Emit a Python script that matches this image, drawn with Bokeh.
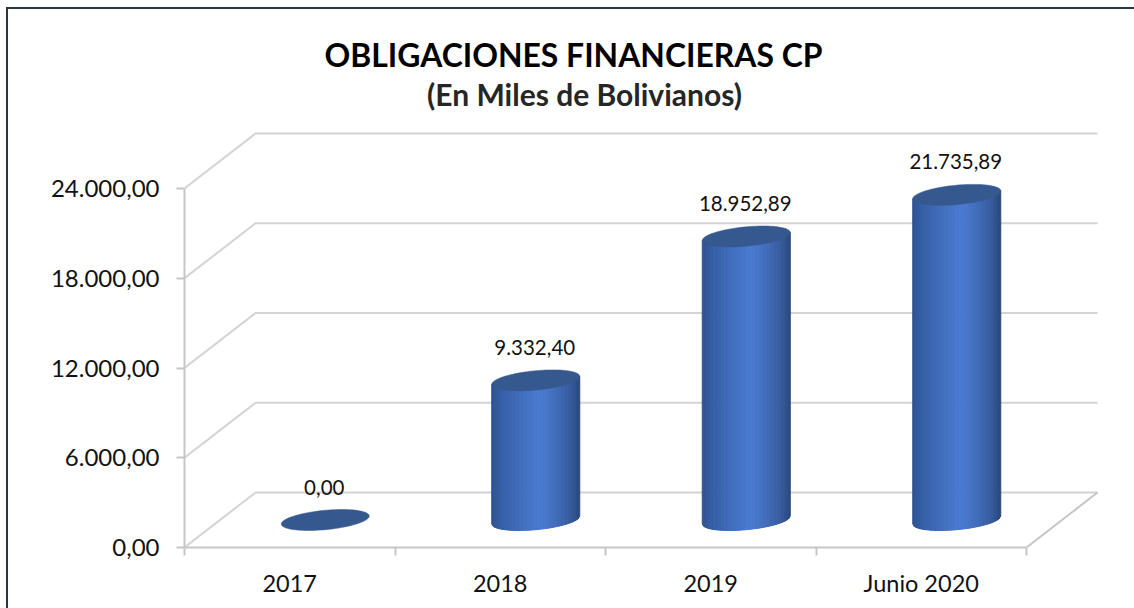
import numpy as np
from bokeh.plotting import figure
from bokeh.embed import file_html
from bokeh.resources import INLINE
from bokeh.models import FixedTicker, Range1d
from bokeh.core.properties import value

title_text = "OBLIGACIONES FINANCIERAS CP"
subtitle_text = "(En Miles de Bolivianos)"
categories = ["2017", "2018", "2019", "Junio 2020"]
values = [0.00, 9332.40, 18952.89, 21735.89]
value_labels = ["0,00", "9.332,40", "18.952,89", "21.735,89"]
y_ticks = [0, 6000, 12000, 18000, 24000]
y_tick_labels = ["0,00", "6.000,00", "12.000,00", "18.000,00", "24.000,00"]

FONT = "Lato"
W, H = 1134, 608
LEFT, BOTTOM = 184, 547      # plot origin in figure pixels
XU, YU = 210.5, 359 / 24000  # pixels per category, pixels per value unit
GRID = "#d4d4d4"
AXIS = "#c6c6c6"
FRAME = "#2b3542"

def dx(px):
    return px / XU

def dy(px):
    return px / YU

p = figure(width=W, height=H, output_backend="svg", toolbar_location=None,
           x_range=Range1d(0, (W - LEFT) / XU), y_range=Range1d(0, BOTTOM / YU),
           min_border_left=LEFT, min_border_right=0, min_border_top=0,
           min_border_bottom=H - BOTTOM, background_fill_color=None,
           border_fill_color=None)
p.outline_line_color = None
p.grid.visible = False

# outer chart border: left and top edges, painted behind the transparent canvas
bar = f"linear-gradient({FRAME},{FRAME})"
p.styles = {"background": f"{bar} 6px 7px / 2px 100% no-repeat, {bar} 6px 7px / 100% 2px no-repeat, #ffffff"}

# axes
yax = p.yaxis[0]
yax.ticker = FixedTicker(ticks=y_ticks)
yax.major_label_overrides = dict(zip(y_ticks, y_tick_labels))
yax.bounds = (0, 24000)
yax.axis_line_color = AXIS
yax.axis_line_width = 2
yax.major_tick_line_color = AXIS
yax.major_tick_line_width = 2
yax.major_tick_out = 8
yax.major_tick_in = 0
yax.minor_tick_line_color = None
yax.major_label_standoff = 17
yax.major_label_text_font = FONT
yax.major_label_text_font_size = "24px"
yax.major_label_text_color = "#111111"

cat_pos = [i + 0.5 for i in range(len(categories))]
xax = p.xaxis[0]
xax.ticker = FixedTicker(ticks=cat_pos, minor_ticks=list(range(len(categories) + 1)))
xax.major_label_overrides = dict(zip(cat_pos, categories))
xax.bounds = (0, len(categories))
xax.axis_line_color = AXIS
xax.axis_line_width = 2
xax.major_tick_line_color = None
xax.minor_tick_line_color = AXIS
xax.minor_tick_line_width = 2
xax.minor_tick_out = 8
xax.minor_tick_in = 0
xax.major_label_standoff = 13
xax.major_label_text_font = FONT
xax.major_label_text_font_size = "23.5px"
xax.major_label_text_color = "#111111"

# 3D walls and floor
DX, DY = dx(71), dy(55)
n = len(categories)
for t in y_ticks:
    p.line([0, DX, n + DX], [t, t + DY, t + DY], line_color=GRID, line_width=2)
p.line([n, n + DX], [0, DY], line_color=AXIS, line_width=2)

# cylinders
A, B, S = dx(44), dy(9.7), dy(4)
BASE = dy(27.5)
def mix(c1, c2, f):
    return "#%02x%02x%02x" % tuple(int(round(a + (b - a) * f)) for a, b in zip(c1, c2))
DARK_L, PEAK, DARK_R = (44, 80, 142), (74, 123, 209), (41, 68, 118)
TOP = "#35588f"
STRIPS = 56
PK = 0.12
for i, v in enumerate(values):
    cx = cat_pos[i] + DX / 2
    top = v + BASE
    if v > 0:
        edges = np.linspace(-1, 1, STRIPS + 1)
        xs, ys, cols = [], [], []
        for a, b in zip(edges[:-1], edges[1:]):
            ta = top + S * a
            tb = top + S * b
            ya = BASE + S * a - B * np.sqrt(max(0, 1 - a * a))
            yb = BASE + S * b - B * np.sqrt(max(0, 1 - b * b))
            xs.append([cx + A * a, cx + A * b, cx + A * b, cx + A * a])
            ys.append([ya, yb, tb, ta])
            m = (a + b) / 2
            if m < PK:
                cols.append(mix(DARK_L, PEAK, ((m + 1) / (PK + 1)) ** 0.7))
            else:
                cols.append(mix(DARK_R, PEAK, ((1 - m) / (1 - PK)) ** 0.6))
        p.patches(xs, ys, fill_color=cols, line_color=cols, line_width=1)
    th = np.linspace(0, 2 * np.pi, 90)
    p.patch(cx + A * np.cos(th), top + S * np.cos(th) + B * np.sin(th),
            fill_color=TOP, line_color=TOP, line_width=0.5)

# value labels
p.text([c + DX / 2 for c in cat_pos], [v + BASE for v in values], text=value_labels,
       text_font=value(FONT), text_font_size="20.5px", text_color="#111111",
       text_align="center", text_baseline="middle", y_offset=-33, x_offset=-1)

# titles
p.text([dx(573 - 184)], [dy(547 - 54)], text=[title_text], text_font=value(FONT),
       text_font_size="31.9px", text_font_style="bold", text_color="#000000",
       text_align="center", text_baseline="middle")
p.text([dx(584 - 184)], [dy(547 - 93)], text=[subtitle_text], text_font=value(FONT),
       text_font_size="30px", text_font_style="bold", text_color="#262626",
       text_align="center", text_baseline="middle")

open("out.html", "w").write(file_html(p, INLINE))
